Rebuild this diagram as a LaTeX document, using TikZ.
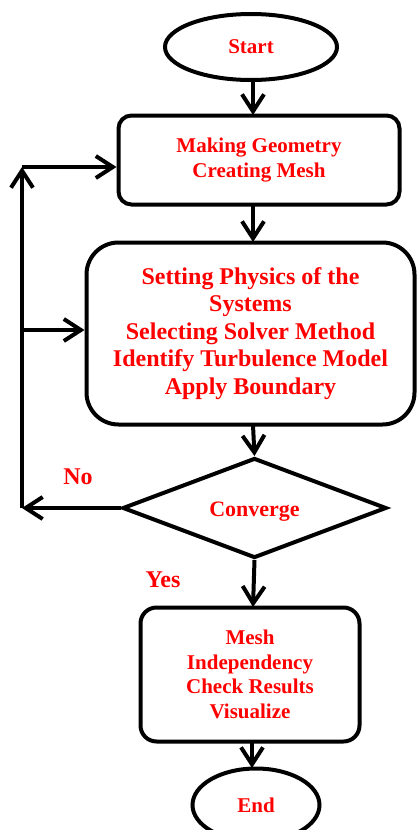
\documentclass[tikz,border=0pt]{standalone}
\usepackage{fontspec}
\setmainfont{Liberation Serif}
\usetikzlibrary{shapes.geometric,arrows.meta}

\begin{document}
\begin{tikzpicture}[x=1pt, y=-1pt,
    line width=4pt,
    arrow/.style={-{Straight Barb[length=17pt,width=22pt,line width=4pt]}},
    txt/.style={text=red, font=\bfseries\fontsize{21}{24.5}\selectfont, align=center},
    term/.style={draw, ellipse, txt},
    proc/.style={draw, rectangle, txt}]
    \clip (0,0) rectangle (419,830);
    \useasboundingbox (0,0) rectangle (419,830);

    \node[term, minimum width=172pt, minimum height=66pt] (start) at (251,47) {Start};
    \node[proc, rounded corners=13pt, minimum width=281pt, minimum height=89pt] (geom) at (259,160)
        {Making Geometry\\Creating Mesh};
    \node[proc, rounded corners=32pt, minimum width=328pt, minimum height=182pt,
        font=\bfseries\fontsize{24}{27.5}\selectfont] (phys) at (250.5,333.5)
        {Setting Physics of the\\Systems\\Selecting Solver Method\\Identify Turbulence Model\\Apply Boundary};
    \node[draw, diamond, inner sep=0pt, minimum width=264pt, minimum height=100pt,
        label={[txt, font=\bfseries\fontsize{22}{24}\selectfont, yshift=-4pt]center:Converge}] (conv) at (254.5,508) {};
    \node[proc, rounded corners=16pt, minimum width=219pt, minimum height=134pt] (check) at (250,674.5)
        {Mesh\\Independency\\Check Results\\Visualize};
    \node[term, minimum width=127pt, minimum height=73pt] (end) at (256,805) {End};

    \coordinate (top) at (22,167);
    \coordinate (mid) at (22,330);
    \coordinate (bot) at (22,508);

    \draw[arrow] (253,80) -- (253,115);
    \draw[arrow] (253,205) -- (253,242);
    \draw[arrow] (253,425) -- (conv.north);
    \draw[arrow] (conv.south) -- (253,607);
    \draw[arrow] (252,742) -- (252,768);

    \draw[arrow] (conv.west) -- (bot);
    \draw[arrow] (bot) -- (top);
    \draw[arrow] (top) -- (geom.west |- top);
    \draw[arrow] (mid) -- (phys.west |- mid);

    \node[txt, font=\bfseries\fontsize{24}{26}\selectfont] (no) at (78,477) {No};
    \node[txt, font=\bfseries\fontsize{24}{26}\selectfont] (yes) at (163,580) {Yes};
\end{tikzpicture}
\end{document}
